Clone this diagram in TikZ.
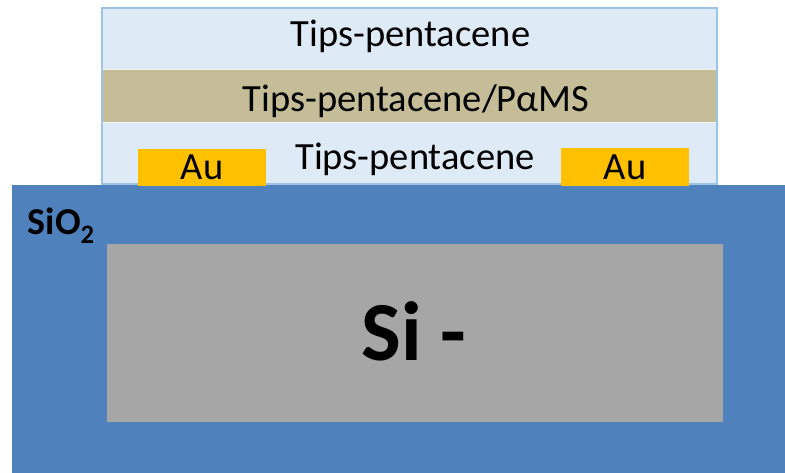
\documentclass[tikz,border=0pt]{standalone}
\usepackage{fontspec}
\setmainfont{Carlito}
\definecolor{layerblue}{HTML}{DEEAF6}
\definecolor{layeredge}{HTML}{9DC3E6}
\definecolor{pams}{HTML}{C4BD97}
\definecolor{gold}{HTML}{FFC000}
\definecolor{oxide}{HTML}{4F81BD}
\definecolor{silicon}{HTML}{A6A6A6}
\tikzset{
  box/.style={rectangle, inner sep=0pt, outer sep=0pt, anchor=north west},
  lbl/.style={inner sep=0pt, anchor=base, font=\fontsize{38.5}{42}\selectfont}
}
\begin{document}
\begin{tikzpicture}[x=1pt,y=-1pt]
\useasboundingbox[fill=white] (0,0) rectangle (785,473);
% substrate
\node[box, fill=oxide, minimum width=773pt, minimum height=290pt] (sio2) at (12,185) {};
\node[box, fill=silicon, minimum width=616pt, minimum height=178pt] (si) at (107,244) {};
% organic stack
\node[box, fill=layerblue, draw=white!85!layeredge, line width=0.8pt, minimum width=615pt, minimum height=61pt] (top) at (102,8) {};
\node[box, fill=pams, draw=white!80!pams, line width=0.8pt, minimum width=615pt, minimum height=53pt] (mid) at (102,69) {};
\node[box, fill=layerblue, draw=white!85!layeredge, line width=0.8pt, minimum width=615pt, minimum height=62pt] (bot) at (102,122) {};
\draw[layeredge, line width=1.5pt] (top.north west) rectangle (bot.south east);
% gold contacts
\node[box, fill=gold, minimum width=128pt, minimum height=37pt] (auL) at (138,149) {};
\node[box, fill=gold, minimum width=128pt, minimum height=38pt] (auR) at (561,148) {};
% labels
\node[lbl] (ttop) at (410.5,47) {Tips-pentacene};
\node[lbl] (tmid) at (416,112) {Tips-pentacene/PαMS};
\node[lbl] (tbot) at (415,170) {Tips-pentacene};
\node[lbl] (tauL) at (202,180) {Au};
\node[lbl] (tauR) at (625,180) {Au};
\node[inner sep=0pt, anchor=base west, font=\bfseries\fontsize{38}{42}\selectfont] (tsio2) at (27.5,235) {SiO\textsubscript{2}};
\node[inner sep=0pt, anchor=base, font=\bfseries\fontsize{84}{90}\selectfont] (tsi) at (414,360) {Si -};
\end{tikzpicture}
\end{document}
